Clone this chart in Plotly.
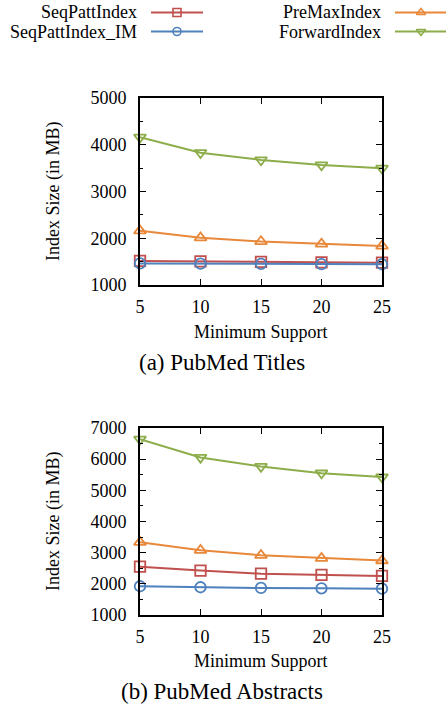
import plotly.graph_objects as go

support = [5, 10, 15, 20, 25]
series_names = ["SeqPattIndex", "SeqPattIndex_IM", "PreMaxIndex", "ForwardIndex"]
titles_vals = {
    "SeqPattIndex": [1515, 1505, 1495, 1485, 1478],
    "SeqPattIndex_IM": [1462, 1457, 1452, 1448, 1444],
    "PreMaxIndex": [2160, 2010, 1932, 1877, 1834],
    "ForwardIndex": [4160, 3830, 3675, 3567, 3496],
}
abstracts_vals = {
    "SeqPattIndex": [2552, 2424, 2327, 2285, 2253],
    "SeqPattIndex_IM": [1922, 1890, 1868, 1857, 1846],
    "PreMaxIndex": [3335, 3078, 2917, 2820, 2745],
    "ForwardIndex": [6640, 6056, 5766, 5552, 5424],
}
x_ticks = [5, 10, 15, 20, 25]
y_ticks_top = [1000, 2000, 3000, 4000, 5000]
y_ticks_bottom = [1000, 2000, 3000, 4000, 5000, 6000, 7000]
captions = ["(a) PubMed Titles", "(b) PubMed Abstracts"]
x_title = "Minimum Support"
y_title = "Index Size (in MB)"

colors = {"SeqPattIndex": "#c0504d", "SeqPattIndex_IM": "#4f81bd",
          "PreMaxIndex": "#e8883a", "ForwardIndex": "#8cad4a"}
symbols = {"SeqPattIndex": "square-open", "SeqPattIndex_IM": "circle-open",
           "PreMaxIndex": "triangle-up-open", "ForwardIndex": "triangle-down-open"}

W, H = 446, 709
FONT = "Liberation Serif"
LEG_H = 45

def px(x):
    return x / W

def py(y):
    return 1 - y / H

fig = go.Figure()

for i, (vals, xa, ya) in enumerate([(titles_vals, "x", "y"), (abstracts_vals, "x2", "y2")]):
    for name in series_names:
        fig.add_trace(go.Scatter(
            x=support, y=vals[name], xaxis=xa, yaxis=ya, mode="lines+markers",
            line=dict(color=colors[name], width=2),
            marker=dict(symbol=symbols[name], size=10.5, color=colors[name],
                        line=dict(width=1.8, color=colors[name])),
            cliponaxis=False, showlegend=False, name=name))

# legend samples on an overlay axis covering the top strip (pixel units)
legend_rows = [12.5, 31.5, 12.5, 31.5]
legend_x0 = [151, 151, 395, 395]
legend_x1 = [203, 203, 446, 446]
marker_x = [177, 177, 421, 421]
text_right = [139, 139, 383, 383]
for name, yy, x0, x1, mx, tr in zip(series_names, legend_rows, legend_x0, legend_x1, marker_x, text_right):
    fig.add_trace(go.Scatter(
        x=[x0, x1], y=[yy, yy], xaxis="x3", yaxis="y3", mode="lines",
        line=dict(color=colors[name], width=2), showlegend=False, hoverinfo="skip", cliponaxis=False))
    fig.add_trace(go.Scatter(
        x=[mx], y=[yy], xaxis="x3", yaxis="y3", mode="markers",
        marker=dict(symbol=symbols[name], size=8, color=colors[name],
                    line=dict(width=1.6, color=colors[name])),
        showlegend=False, hoverinfo="skip", cliponaxis=False))
    fig.add_annotation(text=name, x=px(tr), y=py(yy), xref="paper", yref="paper",
                       xanchor="right", yanchor="middle", showarrow=False,
                       font=dict(family=FONT, size=18, color="black"))

axis_common = dict(showline=True, linecolor="black", linewidth=1.6, mirror="allticks",
                   ticks="inside", ticklen=6, tickwidth=1.2, tickcolor="black",
                   showgrid=False, zeroline=False, automargin=False,
                   tickfont=dict(family=FONT, size=18, color="black"))

xdom = [px(140), px(382)]
fig.update_layout(
    width=W, height=H, margin=dict(l=0, r=0, t=0, b=0, pad=0, autoexpand=False),
    paper_bgcolor="white", plot_bgcolor="rgba(0,0,0,0)",
    xaxis=dict(domain=xdom, range=[5, 25], tickvals=x_ticks, anchor="y",
               ticklabelstandoff=5, **axis_common),
    yaxis=dict(domain=[py(285), py(98)], range=[1000, 5000], tickvals=y_ticks_top, anchor="x",
               ticklabelstandoff=8,
               minor=dict(dtick=500, ticks="inside", ticklen=3, tickcolor="black", tickwidth=1.2),
               **axis_common),
    xaxis2=dict(domain=xdom, range=[5, 25], tickvals=x_ticks, anchor="y2",
                ticklabelstandoff=5, **axis_common),
    yaxis2=dict(domain=[py(615), py(428)], range=[1000, 7000], tickvals=y_ticks_bottom, anchor="x2",
                ticklabelstandoff=8,
                minor=dict(dtick=500, ticks="inside", ticklen=3, tickcolor="black", tickwidth=1.2),
                **axis_common),
    xaxis3=dict(domain=[0, 1], range=[0, W], visible=False, anchor="y3", fixedrange=True, automargin=False),
    yaxis3=dict(domain=[py(LEG_H), 1], range=[LEG_H, 0], visible=False, anchor="x3", fixedrange=True, automargin=False),
)

# axis titles and captions
for cy_plot, tx_y, cap_y, cap in [(192, 332, 362, captions[0]), (522, 661, 691, captions[1])]:
    fig.add_annotation(text=y_title, x=px(53), y=py(cy_plot), xref="paper", yref="paper",
                       textangle=-90, showarrow=False, xanchor="center", yanchor="middle",
                       font=dict(family=FONT, size=18, color="black"))
    fig.add_annotation(text=x_title, x=px(261), y=py(tx_y), xref="paper", yref="paper",
                       showarrow=False, xanchor="center", yanchor="middle",
                       font=dict(family=FONT, size=18, color="black"))
    fig.add_annotation(text=cap, x=px(222), y=py(cap_y), xref="paper", yref="paper",
                       showarrow=False, xanchor="center", yanchor="middle",
                       font=dict(family=FONT, size=23, color="black"))

fig.write_html("out.html", config={"displayModeBar": False},
               post_script="document.body.style.margin='0';document.body.style.overflow='hidden';")
